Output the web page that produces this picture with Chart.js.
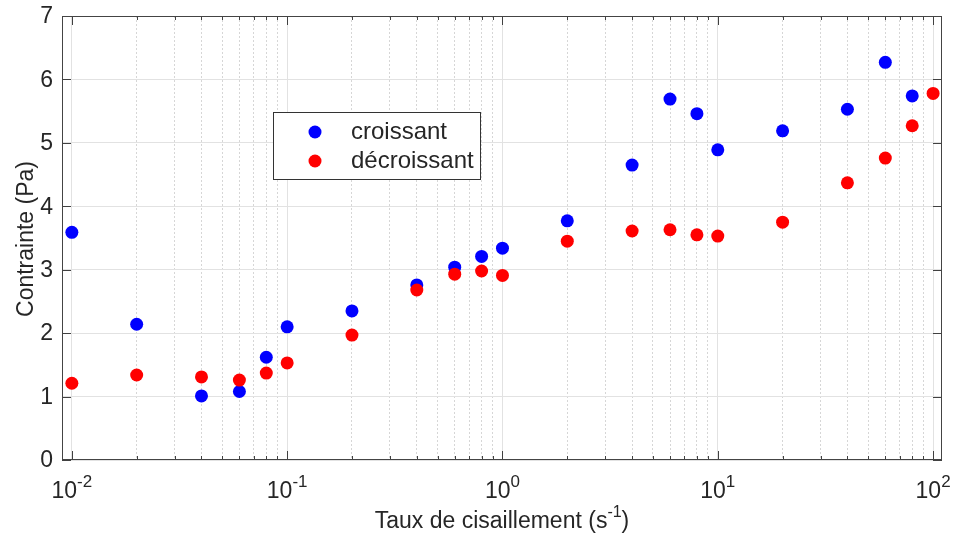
<!DOCTYPE html>
<html>
<head>
<meta charset="utf-8">
<script src="https://cdn.jsdelivr.net/npm/chart.js@4"></script>
<style>
  html, body { margin: 0; padding: 0; background: #fff; }
  #wrap { width: 955px; height: 543px; }
</style>
</head>
<body>
<div id="wrap"><canvas id="chart" width="955" height="543"></canvas></div>
<script>
// taux de cisaillement (s-1)
const tauxCisaillement = [0.01, 0.02, 0.04, 0.06, 0.08, 0.1, 0.2, 0.4, 0.6, 0.8, 1, 2, 4, 6, 8, 10, 20, 40, 60, 80, 100];
// contrainte (Pa)
const croissant = [3.59, 2.14, 1.01, 1.08, 1.62, 2.10, 2.35, 2.76, 3.04, 3.21, 3.34, 3.77, 4.65, 5.69, 5.46, 4.89, 5.19, 5.53, 6.27, 5.74, null];
const decroissant = [1.21, 1.34, 1.31, 1.26, 1.37, 1.53, 1.97, 2.68, 2.93, 2.98, 2.91, 3.45, 3.61, 3.63, 3.55, 3.53, 3.75, 4.37, 4.76, 5.27, 5.78];
const yTicks = [0, 1, 2, 3, 4, 5, 6, 7];
const decades = [-2, -1, 0, 1, 2];

const FONT = "'Liberation Sans', Arial, sans-serif";
const TXT = "#262626";

function toPoints(ys) {
  return tauxCisaillement.map((x, i) => ({ x: x, y: ys[i] })).filter(p => p.y !== null);
}

// ticks log : 1..9 x 10^n
const xTicks = [];
decades.forEach(d => {
  for (let k = 1; k <= 9; k++) {
    if (d === 2 && k > 1) break;
    xTicks.push(k * Math.pow(10, d));
  }
});
function isDecade(v) {
  const l = Math.log10(v);
  return Math.abs(l - Math.round(l)) < 1e-9;
}

// labels, ticks internes, cadre et légende façon MATLAB
const matlabStyle = {
  id: "matlabStyle",
  afterDraw(chart) {
    const ctx = chart.ctx;
    const a = chart.chartArea;
    const xs = chart.scales.x;
    const ys = chart.scales.y;
    ctx.save();

    // ticks internes
    ctx.strokeStyle = "#404040";
    ctx.lineWidth = 1;
    ctx.beginPath();
    xTicks.forEach(v => {
      const px = Math.round(xs.getPixelForValue(v)) + 0.5;
      const len = isDecade(v) ? 9 : 4;
      ctx.moveTo(px, a.bottom); ctx.lineTo(px, a.bottom - len);
      ctx.moveTo(px, a.top); ctx.lineTo(px, a.top + len);
    });
    yTicks.forEach(v => {
      const py = Math.round(ys.getPixelForValue(v)) + 0.5;
      ctx.moveTo(a.left, py); ctx.lineTo(a.left + 9, py);
      ctx.moveTo(a.right, py); ctx.lineTo(a.right - 9, py);
    });
    ctx.stroke();

    // cadre
    ctx.strokeStyle = "#444";
    ctx.strokeRect(a.left + 0.5, a.top + 0.5, a.right - a.left - 1, a.bottom - a.top - 1);

    // labels Y
    ctx.fillStyle = TXT;
    ctx.font = "23px " + FONT;
    ctx.textAlign = "right";
    ctx.textBaseline = "middle";
    yTicks.forEach(v => {
      ctx.fillText(String(v), a.left - 9, ys.getPixelForValue(v) + 1);
    });

    // labels X : 10^n
    ctx.textBaseline = "alphabetic";
    ctx.textAlign = "left";
    decades.forEach(d => {
      const px = xs.getPixelForValue(Math.pow(10, d));
      const exp = String(d);
      ctx.font = "23px " + FONT;
      const wb = ctx.measureText("10").width;
      ctx.font = "17px " + FONT;
      const we = ctx.measureText(exp).width;
      const x0 = px - (wb + we) / 2;
      ctx.font = "23px " + FONT;
      ctx.fillText("10", x0, 498);
      ctx.font = "17px " + FONT;
      ctx.fillText(exp, x0 + wb, 487);
    });

    // titre X
    const t1 = "Taux de cisaillement (s";
    const t2 = "-1";
    const t3 = ")";
    ctx.font = "23px " + FONT;
    const w1 = ctx.measureText(t1).width;
    const w3 = ctx.measureText(t3).width;
    ctx.font = "16px " + FONT;
    const w2 = ctx.measureText(t2).width;
    const tx = (a.left + a.right) / 2 - (w1 + w2 + w3) / 2;
    ctx.font = "23px " + FONT;
    ctx.fillText(t1, tx, 528);
    ctx.font = "16px " + FONT;
    ctx.fillText(t2, tx + w1, 517);
    ctx.font = "23px " + FONT;
    ctx.fillText(t3, tx + w1 + w2, 528);

    // titre Y
    ctx.save();
    ctx.translate(33, 239);
    ctx.rotate(-Math.PI / 2);
    ctx.textAlign = "center";
    ctx.font = "23px " + FONT;
    ctx.fillText("Contrainte (Pa)", 0, 0);
    ctx.restore();

    // légende
    const lx = 273, ly = 112, lw = 207, lh = 67;
    ctx.fillStyle = "#fff";
    ctx.fillRect(lx, ly, lw, lh);
    ctx.strokeStyle = "#333";
    ctx.strokeRect(lx + 0.5, ly + 0.5, lw, lh);
    chart.data.datasets.forEach((ds, i) => {
      const cy = ly + 20 + i * 29;
      ctx.fillStyle = ds.backgroundColor;
      ctx.beginPath();
      ctx.arc(315, cy, 6.5, 0, Math.PI * 2);
      ctx.fill();
      ctx.fillStyle = TXT;
      ctx.font = "24px " + FONT;
      ctx.textAlign = "left";
      ctx.textBaseline = "middle";
      ctx.fillText(ds.label, 351, cy);
    });
    ctx.restore();
  }
};

new Chart(document.getElementById("chart"), {
  type: "scatter",
  data: {
    datasets: [{
      label: "croissant",
      data: toPoints(croissant),
      backgroundColor: "#0000ff",
      borderWidth: 0,
      pointRadius: 6.5,
      order: 2
    }, {
      label: "décroissant",
      data: toPoints(decroissant),
      backgroundColor: "#ff0000",
      borderWidth: 0,
      pointRadius: 6.5,
      order: 1
    }]
  },
  options: {
    responsive: false,
    animation: false,
    layout: { padding: { top: 16, right: 13, left: 0, bottom: 0 } },
    plugins: {
      legend: { display: false },
      tooltip: { enabled: false }
    },
    scales: {
      x: {
        type: "logarithmic",
        min: 0.009,
        max: 110,
        afterBuildTicks: scale => {
          scale.ticks = xTicks.map(v => ({ value: v, major: isDecade(v) }));
        },
        afterFit: scale => { scale.height = 83; },
        ticks: { display: false },
        grid: {
          drawTicks: false,
          color: c => (c.tick && c.tick.major) ? "#e2e2e2" : "#d6d6d6",
          lineWidth: 1
        },
        border: {
          display: false,
          dash: c => (c.tick && !c.tick.major) ? [2, 2] : []
        }
      },
      y: {
        min: 0,
        max: 7,
        afterBuildTicks: scale => {
          scale.ticks = yTicks.map(v => ({ value: v }));
        },
        afterFit: scale => { scale.width = 62; },
        ticks: { display: false },
        grid: { drawTicks: false, color: "#e2e2e2", lineWidth: 1 },
        border: { display: false }
      }
    }
  },
  plugins: [matlabStyle]
});
</script>
</body>
</html>
